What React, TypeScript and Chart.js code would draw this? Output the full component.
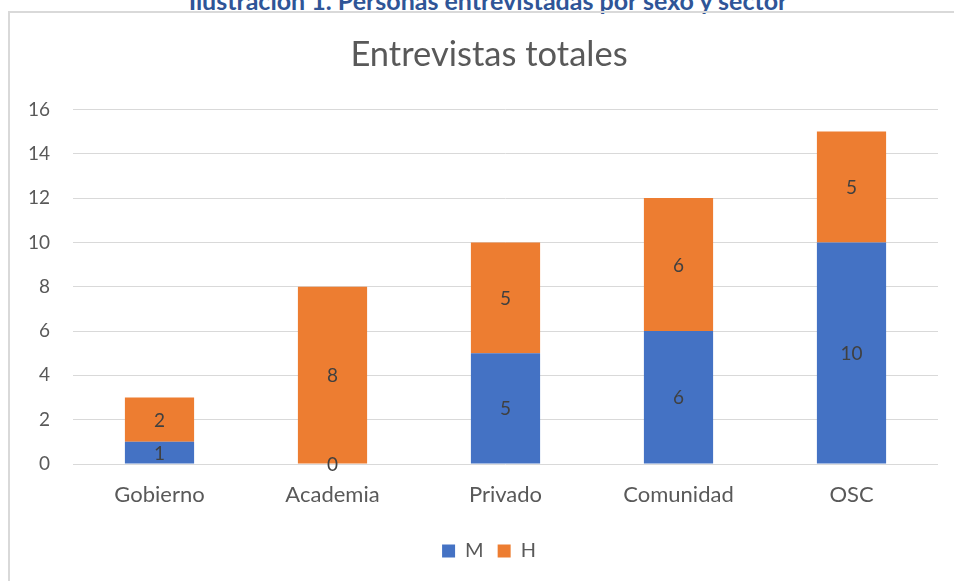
import React, { useEffect, useRef } from "react";
import { Chart, registerables } from "chart.js";

Chart.register(...registerables);

const categories = ["Gobierno", "Academia", "Privado", "Comunidad", "OSC"];
const seriesM = [1, 0, 5, 6, 10];
const seriesH = [2, 8, 5, 6, 5];
const seriesNames = ["M", "H"];
const chartTitle = "Entrevistas totales";
const captionText = "Ilustración 1. Personas entrevistadas por sexo y sector";
const yTicks = { min: 0, max: 16, step: 2 };

const FONT = "Lato, 'Open Sans', sans-serif";

const dataLabelPlugin = {
  id: "segmentLabels",
  afterDatasetsDraw(chart: any) {
    const ctx = chart.ctx;
    ctx.save();
    ctx.font = `19px ${FONT}`;
    ctx.fillStyle = "#404040";
    ctx.textAlign = "center";
    ctx.textBaseline = "middle";
    chart.data.datasets.forEach((ds: any, i: number) => {
      const meta = chart.getDatasetMeta(i);
      meta.data.forEach((el: any, j: number) => {
        const v = ds.data[j];
        const cy = (el.y + el.base) / 2;
        ctx.fillText(String(v), el.x, cy + 1);
      });
    });
    ctx.restore();
  },
};

export default function App() {
  const ref = useRef<HTMLCanvasElement | null>(null);
  useEffect(() => {
    if (!ref.current) return;
    const chart = new Chart(ref.current, {
      type: "bar",
      data: {
        labels: categories,
        datasets: [
          { label: seriesNames[0], data: seriesM, backgroundColor: "#4472C4", barPercentage: 0.4, categoryPercentage: 1 },
          { label: seriesNames[1], data: seriesH, backgroundColor: "#ED7D31", barPercentage: 0.4, categoryPercentage: 1 },
        ],
      },
      options: {
        animation: false,
        responsive: false,
        maintainAspectRatio: false,
        layout: { padding: { top: 0, right: 0, bottom: 10, left: 0 } },
        plugins: {
          tooltip: { enabled: false },
          title: {
            display: true,
            text: chartTitle,
            color: "#595959",
            font: { family: FONT, size: 34.5, weight: "normal" },
            padding: { top: 34, bottom: 34 },
          },
          legend: {
            position: "bottom",
            labels: {
              boxWidth: 13,
              boxHeight: 13,
              padding: 14,
              color: "#595959",
              font: { family: FONT, size: 20 },
            },
          },
        },
        scales: {
          x: {
            stacked: true,
            grid: { display: false },
            border: { display: false },
            ticks: { color: "#595959", font: { family: FONT, size: 22 }, padding: 10 },
            afterFit: (s: any) => { s.height = 63; },
          },
          y: {
            stacked: true,
            min: yTicks.min,
            max: yTicks.max,
            ticks: { stepSize: yTicks.step, color: "#595959", font: { family: FONT, size: 19 }, padding: 23 },
            grid: { color: "#D9D9D9", lineWidth: 1, drawTicks: false },
            border: { display: false },
            afterFit: (s: any) => { s.width = 73; },
          },
          yRightSpacer: {
            type: "linear",
            position: "right",
            display: true,
            ticks: { display: false },
            grid: { display: false, drawTicks: false },
            border: { display: false },
            afterFit: (s: any) => { s.width = 40; },
          },
        },
      },
      plugins: [dataLabelPlugin],
    });
    return () => chart.destroy();
  }, []);

  return (
    <div style={{ position: "absolute", left: 0, top: 0, width: 954, height: 581, overflow: "hidden", background: "#fff" }}>
      <div
        style={{
          position: "absolute",
          left: 488,
          top: -12,
          transform: "translateX(-50%)",
          whiteSpace: "nowrap",
          fontFamily: FONT,
          fontWeight: "bold",
          fontSize: 25,
          lineHeight: "25px",
          color: "#2F5597",
        }}
      >
        {captionText}
      </div>
      <div
        style={{
          position: "absolute",
          left: 8,
          top: 11,
          width: 1000,
          height: 700,
          border: "2px solid #D9D9D9",
          boxSizing: "border-box",
        }}
      />
      <canvas ref={ref} width={978} height={581} style={{ position: "absolute", left: 0, top: 0 }} />
    </div>
  );
}
